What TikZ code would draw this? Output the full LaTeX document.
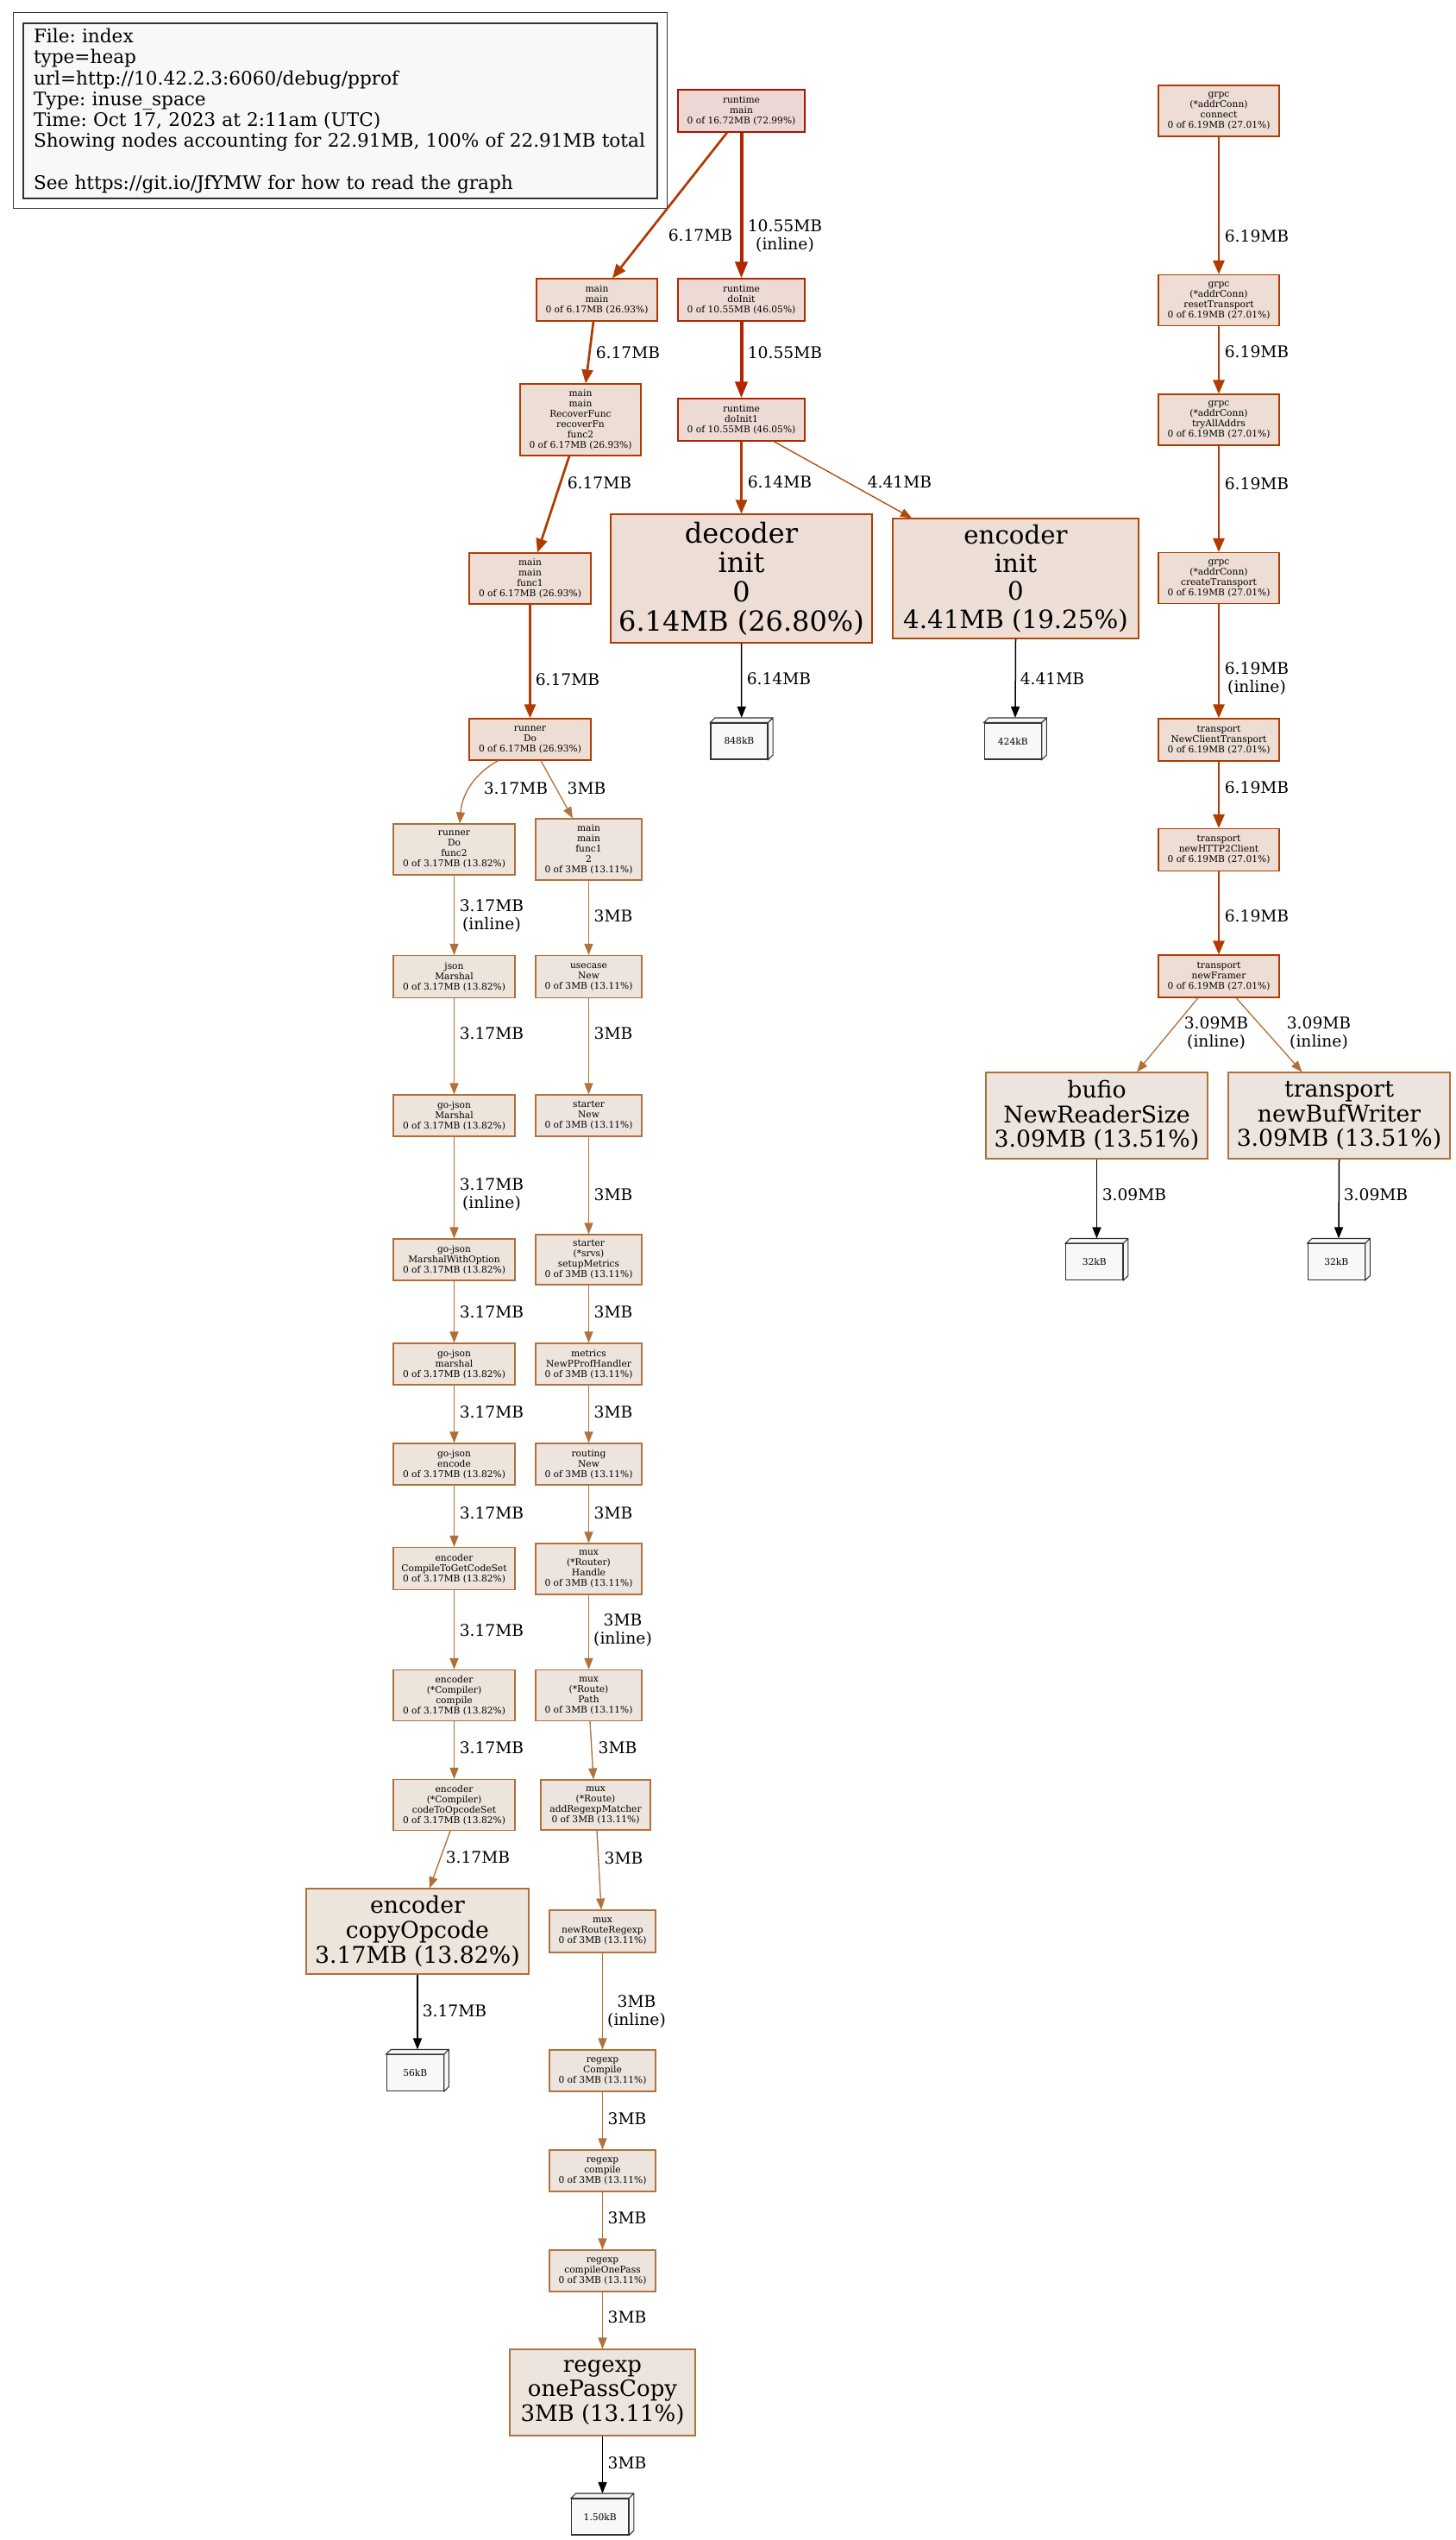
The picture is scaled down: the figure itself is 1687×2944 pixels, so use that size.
\documentclass[tikz,border=0pt]{standalone}
\usepackage{fontspec}
\usetikzlibrary{arrows.meta}
\frenchspacing
\newfontfamily\dvs{DejaVu Serif}
\newcommand\fntsmall{\dvs\fontsize{10.67}{12}\selectfont}
\newcommand\fntedge{\dvs\fontsize{18.67}{21}\selectfont}
\newcommand\fntlegend{\dvs\fontsize{21.6}{24.2}\selectfont}
\newcommand\fntdec{\dvs\fontsize{32}{34}\selectfont}
\newcommand\fntenc{\dvs\fontsize{29.3}{32.5}\selectfont}
\newcommand\fntmed{\dvs\fontsize{26.7}{28.7}\selectfont}
\definecolor{fA}{HTML}{EDD7D5}\definecolor{bA}{HTML}{B21000}
\definecolor{fB}{HTML}{EDDAD5}\definecolor{bB}{HTML}{B22500}
\definecolor{fC}{HTML}{EDDDD5}\definecolor{bC}{HTML}{B23A00}
\definecolor{fD}{HTML}{EDDFD6}\definecolor{bD}{HTML}{B24906}
\definecolor{fE}{HTML}{EDE4DC}\definecolor{bE}{HTML}{B26E37}
\definecolor{fF}{HTML}{EDE4DD}\definecolor{bF}{HTML}{B27039}
\definecolor{fG}{HTML}{EDE4DD}\definecolor{bG}{HTML}{B2723D}
\definecolor{tinyfill}{HTML}{F8F8F8}
\definecolor{tinyline}{HTML}{333333}
\newcommand\boxdepth[1]{\filldraw[fill=tinyfill, draw=tinyline, line width=1.1pt, line join=miter] (#1.north west) -- ++(5.5pt,5.5pt) -- ([xshift=5.5pt,yshift=5.5pt]#1.north east) -- ([xshift=5.5pt,yshift=5.5pt]#1.south east) -- (#1.south east) -- (#1.north east) -- cycle (#1.north east) -- ++(5.5pt,5.5pt);}
\tikzset{
  sn/.style={draw, rectangle, inner sep=0pt, align=center, line width=1.1pt, font=\fntsmall},
  bn/.style={draw, rectangle, inner sep=0pt, align=center, line width=1.1pt},
  tiny/.style={draw=tinyline, fill=tinyfill, rectangle, inner sep=0pt, minimum width=66pt, minimum height=42pt, line width=1.1pt, font=\fntsmall},
  elab/.style={font=\fntedge, align=center, inner sep=0pt},
  ebig/.style={line width=4pt, -{Triangle[length=19pt,width=14pt]}},
  emid/.style={line width=2.7pt, -{Triangle[length=16pt,width=13pt]}},
  esml/.style={line width=1.33pt, -{Triangle[length=13pt,width=10pt]}},
  eblk/.style={draw=black, line width=1.5pt, -{Triangle[length=13pt,width=10pt]}},
  cn/.style={sn, fill=fC, draw=bC},
  ln/.style={sn, fill=fE, draw=bE, minimum width=141pt},
  rn/.style={sn, fill=fG, draw=bG, minimum width=123pt},
}
\begin{document}
\begin{tikzpicture}[x=1pt,y=-1pt]
\useasboundingbox (0,0) rectangle (1687,2944);
\fill[white] (0,0) rectangle (1687,2944);

% legend
\node[draw=tinyline, fill=tinyfill, line width=1.1pt, rectangle, inner xsep=12pt, inner ysep=0pt, text width=711pt, minimum height=203pt, align=left, font=\fntlegend] (legend) at (394.5,128.5) {File: index\\type=heap\\url=http://10.42.2.3:6060/debug/pprof\\Type: inuse\_space\\Time: Oct 17, 2023 at 2:11am (UTC)\\Showing nodes accounting for 22.91MB, 100\% of 22.91MB total\\\mbox{}\\See https://git.io/JfYMW for how to read the graph};
\draw[draw=tinyline, line width=1.1pt] ([shift={(-11pt,12pt)}]legend.north west) rectangle ([shift={(11pt,-11pt)}]legend.south east);

% top / middle nodes
\node[sn, fill=fA, draw=bA, minimum width=147pt, minimum height=49pt] (rtmain) at (859.5,128.5) {runtime\\main\\0 of 16.72MB (72.99\%)};
\node[cn, minimum width=140pt, minimum height=49pt] (mainmain) at (692,347.5) {main\\main\\0 of 6.17MB (26.93\%)};
\node[sn, fill=fB, draw=bB, minimum width=147pt, minimum height=49pt] (doinit) at (859.5,347.5) {runtime\\doInit\\0 of 10.55MB (46.05\%)};
\node[sn, fill=fB, draw=bB, minimum width=147pt, minimum height=49pt] (doinitone) at (859.5,486.5) {runtime\\doInit1\\0 of 10.55MB (46.05\%)};
\node[cn, minimum width=140pt, minimum height=83pt] (recover) at (673,486.5) {main\\main\\RecoverFunc\\recoverFn\\func2\\0 of 6.17MB (26.93\%)};
\node[cn, minimum width=141pt, minimum height=59pt] (funcone) at (614.5,670.5) {main\\main\\func1\\0 of 6.17MB (26.93\%)};
\node[cn, minimum width=141pt, minimum height=48pt] (runnerdo) at (614.5,857) {runner\\Do\\0 of 6.17MB (26.93\%)};
\node[bn, font=\fntdec, fill=fC, draw=bC, minimum width=303pt, minimum height=149pt] (decoder) at (859.5,670.5) {decoder\\init\\0\\6.14MB (26.80\%)};
\node[bn, font=\fntenc, fill=fD, draw=bD, minimum width=285pt, minimum height=139pt] (encinit) at (1177.5,670.5) {encoder\\init\\0\\4.41MB (19.25\%)};
\node[tiny] (kbA) at (857,859) {848kB};
\node[tiny] (kbB) at (1174.25,859) {424kB};
\boxdepth{kbA}
\boxdepth{kbB}

% grpc column
\node[cn, minimum width=140pt, minimum height=59pt] (gconn) at (1413,128.5) {grpc\\(*addrConn)\\connect\\0 of 6.19MB (27.01\%)};
\node[cn, minimum width=140pt, minimum height=59pt] (greset) at (1413,348) {grpc\\(*addrConn)\\resetTransport\\0 of 6.19MB (27.01\%)};
\node[cn, minimum width=140pt, minimum height=59pt] (gtry) at (1413,486.5) {grpc\\(*addrConn)\\tryAllAddrs\\0 of 6.19MB (27.01\%)};
\node[cn, minimum width=140pt, minimum height=59pt] (gcreate) at (1413,670) {grpc\\(*addrConn)\\createTransport\\0 of 6.19MB (27.01\%)};
\node[cn, minimum width=140pt, minimum height=49pt] (tclient) at (1413,857.5) {transport\\NewClientTransport\\0 of 6.19MB (27.01\%)};
\node[cn, minimum width=140pt, minimum height=49pt] (thttp) at (1413,985) {transport\\newHTTP2Client\\0 of 6.19MB (27.01\%)};
\node[cn, minimum width=140pt, minimum height=49pt] (tframer) at (1413,1131.5) {transport\\newFramer\\0 of 6.19MB (27.01\%)};
\node[bn, font=\fntmed, fill=fF, draw=bF, minimum width=257pt, minimum height=100pt] (bufio) at (1271.5,1293) {bufio\\NewReaderSize\\3.09MB (13.51\%)};
\node[bn, font=\fntmed, fill=fF, draw=bF, minimum width=257pt, minimum height=100pt] (bufw) at (1552.5,1293) {transport\\newBufWriter\\3.09MB (13.51\%)};
\node[tiny] (kbC) at (1268.75,1462.5) {32kB};
\node[tiny] (kbD) at (1549.25,1462.5) {32kB};
\boxdepth{kbC}
\boxdepth{kbD}

% left column
\node[ln, minimum height=59pt] (functwo) at (526.5,984.5) {runner\\Do\\func2\\0 of 3.17MB (13.82\%)};
\node[ln, minimum height=49pt] (jsonm) at (526.5,1132) {json\\Marshal\\0 of 3.17MB (13.82\%)};
\node[ln, minimum height=48pt] (gjm) at (526.5,1293) {go-json\\Marshal\\0 of 3.17MB (13.82\%)};
\node[ln, minimum height=48pt] (gjmwo) at (526.5,1460) {go-json\\MarshalWithOption\\0 of 3.17MB (13.82\%)};
\node[ln, minimum height=48pt] (gjmar) at (526.5,1581) {go-json\\marshal\\0 of 3.17MB (13.82\%)};
\node[ln, minimum height=48pt] (gjenc) at (526.5,1697) {go-json\\encode\\0 of 3.17MB (13.82\%)};
\node[ln, minimum height=49pt] (cgcs) at (526.5,1818) {encoder\\CompileToGetCodeSet\\0 of 3.17MB (13.82\%)};
\node[ln, minimum height=59pt] (ccomp) at (526.5,1965) {encoder\\(*Compiler)\\compile\\0 of 3.17MB (13.82\%)};
\node[ln, minimum height=59pt] (ctoop) at (526.5,2092) {encoder\\(*Compiler)\\codeToOpcodeSet\\0 of 3.17MB (13.82\%)};
\node[bn, font=\fntmed, fill=fE, draw=bE, minimum width=258pt, minimum height=99pt] (copyop) at (484,2238.5) {encoder\\copyOpcode\\3.17MB (13.82\%)};
\node[tiny] (kbE) at (481.25,2402.5) {56kB};
\boxdepth{kbE}

% right column
\node[rn, minimum height=71pt] (mfonetwo) at (682.5,984.5) {main\\main\\func1\\2\\0 of 3MB (13.11\%)};
\node[rn, minimum height=49pt] (usecase) at (682.5,1132) {usecase\\New\\0 of 3MB (13.11\%)};
\node[rn, minimum height=48pt] (startnew) at (682.5,1293) {starter\\New\\0 of 3MB (13.11\%)};
\node[rn, minimum height=58pt] (setupm) at (682.5,1460) {starter\\(*srvs)\\setupMetrics\\0 of 3MB (13.11\%)};
\node[rn, minimum height=48pt] (pprofh) at (682.5,1581) {metrics\\NewPProfHandler\\0 of 3MB (13.11\%)};
\node[rn, minimum height=48pt] (routing) at (682.5,1697) {routing\\New\\0 of 3MB (13.11\%)};
\node[rn, minimum height=59pt] (muxhandle) at (682.5,1818.5) {mux\\(*Router)\\Handle\\0 of 3MB (13.11\%)};
\node[rn, minimum height=59pt] (muxpath) at (682.5,1965) {mux\\(*Route)\\Path\\0 of 3MB (13.11\%)};
\node[rn, minimum width=127pt, minimum height=58pt] (addre) at (690.5,2092) {mux\\(*Route)\\addRegexpMatcher\\0 of 3MB (13.11\%)};
\node[rn, minimum height=49pt] (newre) at (698.5,2238.5) {mux\\newRouteRegexp\\0 of 3MB (13.11\%)};
\node[rn, minimum height=48pt] (recomp) at (698.5,2400) {regexp\\Compile\\0 of 3MB (13.11\%)};
\node[rn, minimum height=48pt] (recompl) at (698.5,2516) {regexp\\compile\\0 of 3MB (13.11\%)};
\node[rn, minimum height=48pt] (reonepass) at (698.5,2632) {regexp\\compileOnePass\\0 of 3MB (13.11\%)};
\node[bn, font=\dvs\fontsize{26}{28.5}\selectfont, fill=fG, draw=bG, minimum width=215pt, minimum height=100pt] (onepasscopy) at (698.5,2773) {regexp\\onePassCopy\\3MB (13.11\%)};
\node[tiny] (kbF) at (695.75,2917) {1.50kB};
\boxdepth{kbF}

% edges: top
\draw[emid, draw=bC] ([xshift=-16.5pt]rtmain.south) -- ([xshift=18pt]mainmain.north);
\draw[ebig, draw=bB] (rtmain) -- (doinit);
\draw[emid, draw=bC] ([xshift=-4pt]mainmain.south) -- ([xshift=6pt]recover.north);
\draw[ebig, draw=bB] (doinit) -- (doinitone);
\draw[emid, draw=bC] ([xshift=-13pt]recover.south) -- ([xshift=8.5pt]funcone.north);
\draw[emid, draw=bC] (funcone) -- (runnerdo);
\draw[esml, draw=bE] ([xshift=-36.5pt]runnerdo.south) .. controls (556,893) and (536,915) .. ([xshift=6.5pt]functwo.north);
\draw[esml, draw=bG] ([xshift=12.5pt]runnerdo.south) -- ([xshift=-18.5pt]mfonetwo.north);
\draw[emid, draw=bC] (doinitone) -- (decoder);
\draw[esml, draw=bD] ([xshift=37.5pt]doinitone.south) -- ([xshift=-120.5pt]encinit.north);
\draw[eblk] (decoder.south) -- ([xshift=2.75pt,yshift=5.5pt]kbA.north);
\draw[eblk] (encinit.south) -- ([xshift=2.75pt,yshift=5.5pt]kbB.north);

% grpc edges
\draw[emid, draw=bC] (gconn) -- (greset);
\draw[emid, draw=bC] (greset) -- (gtry);
\draw[emid, draw=bC] (gtry) -- (gcreate);
\draw[emid, draw=bC] (gcreate) -- (tclient);
\draw[emid, draw=bC] (tclient) -- (thttp);
\draw[emid, draw=bC] (thttp) -- (tframer);
\draw[esml, draw=bF] ([xshift=-24pt]tframer.south) -- ([xshift=46.5pt]bufio.north);
\draw[esml, draw=bF] ([xshift=20pt]tframer.south) -- ([xshift=-43pt]bufw.north);
\draw[eblk] (bufio.south) -- ([xshift=2.75pt,yshift=5.5pt]kbC.north);
\draw[eblk] (bufw.south) -- ([xshift=2.75pt,yshift=5.5pt]kbD.north);

% left column edges
\draw[esml, draw=bE] (functwo) -- (jsonm);
\draw[esml, draw=bE] (jsonm) -- (gjm);
\draw[esml, draw=bE] (gjm) -- (gjmwo);
\draw[esml, draw=bE] (gjmwo) -- (gjmar);
\draw[esml, draw=bE] (gjmar) -- (gjenc);
\draw[esml, draw=bE] (gjenc) -- (cgcs);
\draw[esml, draw=bE] (cgcs) -- (ccomp);
\draw[esml, draw=bE] (ccomp) -- (ctoop);
\draw[esml, draw=bE] ([xshift=-4.5pt]ctoop.south) -- ([xshift=14pt]copyop.north);
\draw[eblk] (copyop.south) -- ([xshift=2.75pt,yshift=5.5pt]kbE.north);

% right column edges
\draw[esml, draw=bG] (mfonetwo) -- (usecase);
\draw[esml, draw=bG] (usecase) -- (startnew);
\draw[esml, draw=bG] (startnew) -- (setupm);
\draw[esml, draw=bG] (setupm) -- (pprofh);
\draw[esml, draw=bG] (pprofh) -- (routing);
\draw[esml, draw=bG] (routing) -- (muxhandle);
\draw[esml, draw=bG] (muxhandle) -- (muxpath);
\draw[esml, draw=bG] ([xshift=1.5pt]muxpath.south) -- ([xshift=-2.5pt]addre.north);
\draw[esml, draw=bG] ([xshift=1.5pt]addre.south) -- ([xshift=-1.5pt]newre.north);
\draw[esml, draw=bG] (newre) -- (recomp);
\draw[esml, draw=bG] (recomp) -- (recompl);
\draw[esml, draw=bG] (recompl) -- (reonepass);
\draw[esml, draw=bG] (reonepass) -- (onepasscopy);
\draw[eblk] (onepasscopy.south) -- ([xshift=2.75pt,yshift=5.5pt]kbF.north);

% edge labels
\node[elab] (la1) at (812,273) {6.17MB};
\node[elab] (la2) at (910,274) {10.55MB\\(inline)};
\node[elab] (la3) at (728,409) {6.17MB};
\node[elab] (la4) at (910,409) {10.55MB};
\node[elab] (la5) at (695,560) {6.17MB};
\node[elab] (la6) at (658,788) {6.17MB};
\node[elab] (la7) at (598,914) {3.17MB};
\node[elab] (la8) at (680,914) {3MB};
\node[elab] (la9) at (904,559) {6.14MB};
\node[elab] (la10) at (1043,559) {4.41MB};
\node[elab] (la11) at (903,787) {6.14MB};
\node[elab] (la12) at (1220,787) {4.41MB};
\node[elab] (lg1) at (1457,274) {6.19MB};
\node[elab] (lg2) at (1457,408) {6.19MB};
\node[elab] (lg3) at (1457,560.5) {6.19MB};
\node[elab] (lg4) at (1457,787) {6.19MB\\(inline)};
\node[elab] (lg5) at (1457,913) {6.19MB};
\node[elab] (lg6) at (1457,1062) {6.19MB};
\node[elab] (lg7) at (1410,1198) {3.09MB\\(inline)};
\node[elab] (lg8) at (1529,1198) {3.09MB\\(inline)};
\node[elab] (lg9) at (1315,1385) {3.09MB};
\node[elab] (lg10) at (1595,1385) {3.09MB};
\node[elab] (ll1) at (570,1062) {3.17MB\\(inline)};
\node[elab] (ll2) at (570,1198) {3.17MB};
\node[elab] (ll3) at (570,1385) {3.17MB\\(inline)};
\node[elab] (ll4) at (570,1521) {3.17MB};
\node[elab] (ll5) at (570,1637) {3.17MB};
\node[elab] (ll6) at (570,1753.5) {3.17MB};
\node[elab] (ll7) at (570,1890) {3.17MB};
\node[elab] (ll8) at (570,2026) {3.17MB};
\node[elab] (ll9) at (554,2153) {3.17MB};
\node[elab] (ll10) at (527,2331) {3.17MB};
\node[elab] (lr1) at (711,1062) {3MB};
\node[elab] (lr2) at (711,1198) {3MB};
\node[elab] (lr3) at (711,1385) {3MB};
\node[elab] (lr4) at (711,1521) {3MB};
\node[elab] (lr5) at (711,1637) {3MB};
\node[elab] (lr6) at (711,1753.5) {3MB};
\node[elab] (lr7) at (722,1890) {3MB\\(inline)};
\node[elab] (lr8) at (716,2026) {3MB};
\node[elab] (lr9) at (723,2154) {3MB};
\node[elab] (lr10) at (738,2331) {3MB\\(inline)};
\node[elab] (lr11) at (727,2455.6) {3MB};
\node[elab] (lr12) at (727,2571) {3MB};
\node[elab] (lr13) at (727,2686) {3MB};
\node[elab] (lr14) at (727,2855) {3MB};
\end{tikzpicture}
\end{document}
